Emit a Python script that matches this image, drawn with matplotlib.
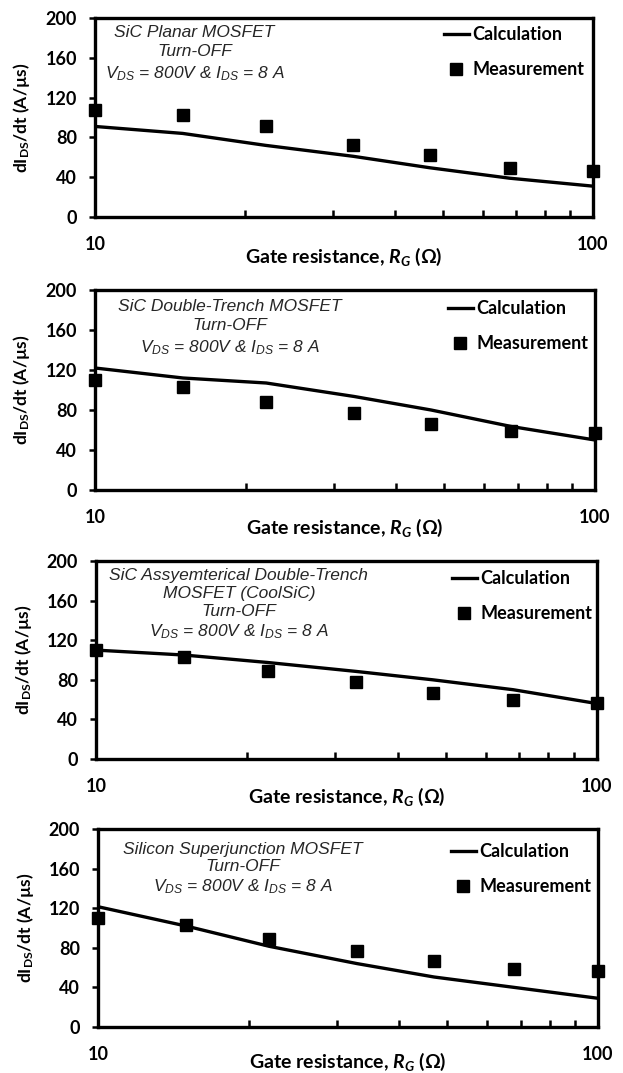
import matplotlib.pyplot as plt
import matplotlib.ticker as mticker

# --- Data ---
R_G = [10, 15, 22, 33, 47, 68, 100]

TITLES = [
    'SiC Planar MOSFET\nTurn-OFF\n$\\mathrm{V_{DS}}$ = 800V & $\\mathrm{I_{DS}}$ = 8 A',
    'SiC Double-Trench MOSFET\nTurn-OFF\n$\\mathrm{V_{DS}}$ = 800V & $\\mathrm{I_{DS}}$ = 8 A',
    'SiC Assyemterical Double-Trench\nMOSFET (CoolSiC)\nTurn-OFF\n'
    '$\\mathrm{V_{DS}}$ = 800V & $\\mathrm{I_{DS}}$ = 8 A',
    'Silicon Superjunction MOSFET\nTurn-OFF\n$\\mathrm{V_{DS}}$ = 800V & $\\mathrm{I_{DS}}$ = 8 A',
]

meas_planar = [108, 102.5, 91, 72, 62, 49, 46]
calc_planar = [91, 84, 72, 61, 49.5, 39, 31]

meas_dtrench = [110, 103, 88.5, 77.5, 66.5, 59, 57]
calc_dtrench = [122, 112, 107, 93.5, 80, 63.5, 50]

meas_coolsic = [110, 103, 89, 77.5, 67, 59.5, 57]
calc_coolsic = [110, 105, 97.5, 88.5, 80, 70, 56]

meas_sj = [110, 103, 89, 77, 66.5, 59, 56.5]
calc_sj = [121.5, 102, 81.5, 64, 50.5, 40, 29]

MEAS = [meas_planar, meas_dtrench, meas_coolsic, meas_sj]
CALC = [calc_planar, calc_dtrench, calc_coolsic, calc_sj]

Y_TICKS = [0, 40, 80, 120, 160, 200]

# axes boxes in pixels: left, right, top, bottom
BOXES = [(95, 593, 18, 217), (95, 595, 290, 490), (96, 597, 561, 759), (98, 598, 829, 1027)]
NOTE_POS = [(0.20, 0.965), (0.27, 0.955), (0.285, 0.965), (0.29, 0.935)]
NOTE_SPACING = [1.35, 1.35, 1.25, 1.2]
LEG_POS = [(0.70, 0.96), (0.705, 0.95), (0.71, 0.955), (0.705, 0.93)]
XLAB_Y = [-0.20, -0.19, -0.19, -0.175]

W, H = 623, 1073
plt.rcParams['font.family'] = ['Lato', 'DejaVu Sans']
plt.rcParams['mathtext.fontset'] = 'custom'
plt.rcParams['mathtext.rm'] = 'Liberation Sans:italic'
plt.rcParams['mathtext.it'] = 'Lato:bold:italic'
plt.rcParams['mathtext.bf'] = 'Lato:bold'

fig = plt.figure(figsize=(W / 100, H / 100), dpi=100)

for i, (l, r, t, b) in enumerate(BOXES):
    ax = fig.add_axes([l / W, 1 - b / H, (r - l) / W, (b - t) / H])
    ax.plot(R_G, CALC[i], color='black', linewidth=2.4, label='Calculation')
    ax.plot(R_G, MEAS[i], linestyle='none', marker='s', markersize=9,
            color='black', label='Measurement', clip_on=False, zorder=5)

    ax.set_xscale('log')
    ax.set_xlim(10, 100)
    ax.set_ylim(0, 200)
    ax.set_yticks(Y_TICKS)
    ax.xaxis.set_major_locator(mticker.FixedLocator([10, 100]))
    ax.xaxis.set_major_formatter(mticker.FixedFormatter(['10', '100']))
    ax.xaxis.set_minor_locator(mticker.FixedLocator([20, 30, 40, 50, 60, 70, 80, 90]))
    ax.xaxis.set_minor_formatter(mticker.NullFormatter())
    ax.tick_params(axis='x', which='major', length=0, pad=14, labelsize=13)
    ax.tick_params(axis='x', which='minor', direction='in', length=5, width=1.8)
    ax.tick_params(axis='y', which='major', direction='out', length=4, width=1.8,
                   pad=9, labelsize=13)
    for lab in ax.get_xticklabels() + ax.get_yticklabels():
        lab.set_fontweight('bold')
    for sp in ax.spines.values():
        sp.set_linewidth(2.4)

    ax.set_xlabel('Gate resistance, $\\mathit{R_{G}}$ (Ω)', fontsize=14,
                  fontweight='bold', va='center')
    ax.xaxis.set_label_coords(0.5, XLAB_Y[i])
    ax.set_ylabel('dI$_{\\mathbf{DS}}$/dt (A/µs)', fontsize=12.5, fontweight='bold',
                  va='center')
    ax.yaxis.set_label_coords(-73 / (r - l), 0.5)

    ax.text(NOTE_POS[i][0], NOTE_POS[i][1], TITLES[i], transform=ax.transAxes,
            ha='center', va='top', fontsize=12.5, style='italic',
            family='Liberation Sans', color='#262626', linespacing=NOTE_SPACING[i])

    ax.legend(loc='upper left', bbox_to_anchor=LEG_POS[i], frameon=False,
              handlelength=1.4, handletextpad=0.2, labelspacing=1.0,
              prop={'weight': 'bold', 'size': 13}, borderaxespad=0, borderpad=0)

fig.savefig('out.png', dpi=100)
